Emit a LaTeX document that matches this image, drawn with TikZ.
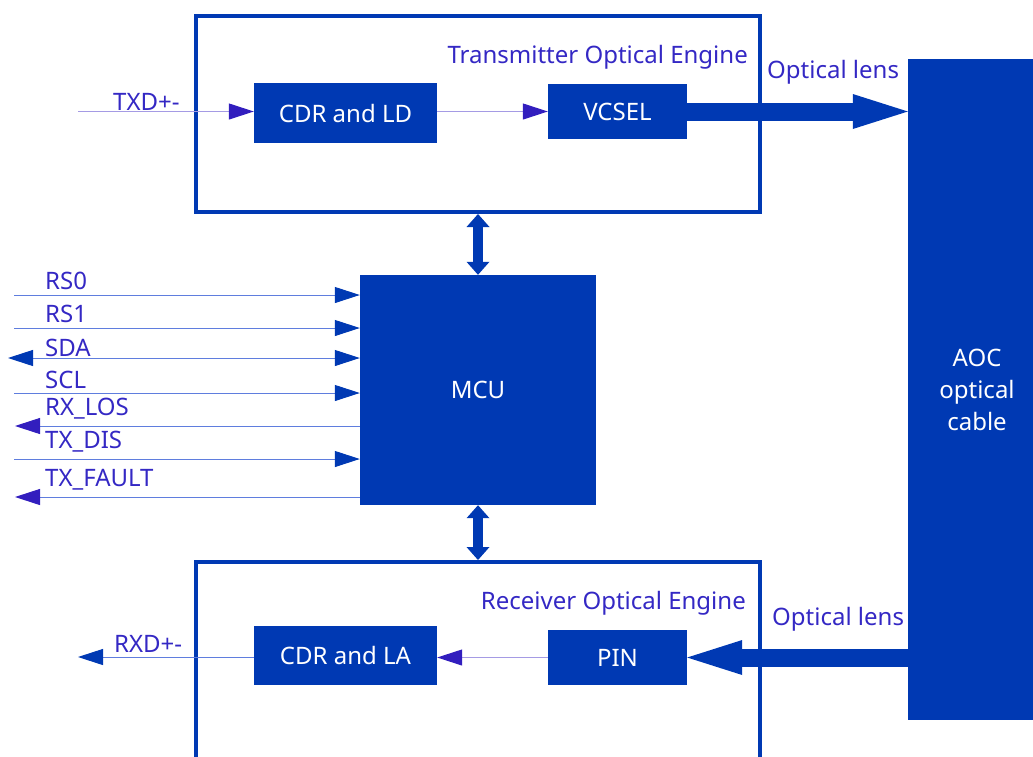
\documentclass[tikz,border=0pt]{standalone}
\usepackage{fontspec}
\setmainfont{Noto Sans}
\usetikzlibrary{arrows.meta}
\definecolor{boxblue}{RGB}{0,57,179}
\definecolor{lbl}{RGB}{52,40,196}
\definecolor{thinl}{RGB}{165,155,228}
\definecolor{sigl}{RGB}{95,125,222}
\definecolor{tipp}{RGB}{50,30,190}
\tikzset{
  tipB/.tip={Triangle[length=25pt,width=16pt,color=boxblue]},
  tipP/.tip={Triangle[length=25pt,width=16pt,color=tipp]},
  tipF/.tip={Triangle[length=55pt,width=35pt,line width=0pt]}
}
\begin{document}
\begin{tikzpicture}[x=1pt,y=-1pt,
  blk/.style={fill=boxblue,draw=none,text=white,font=\fontsize{24}{28}\selectfont,inner sep=0},
  frame/.style={draw=boxblue,line width=4pt,inner sep=0},
  lab/.style={text=lbl,font=\fontsize{24}{28}\selectfont,inner sep=0},
  thinln/.style={draw=thinl,line width=1pt},
  sig/.style={draw=sigl,line width=1pt},
  fat/.style={draw=boxblue,line width=18pt},
  dbl/.style={draw=boxblue,line width=10pt,{Triangle[length=13pt,width=23pt,line width=0pt]}-{Triangle[length=13pt,width=23pt,line width=0pt]}}
]
\useasboundingbox (0,0) rectangle (1033,756);
% frames
\node[frame,minimum width=564pt,minimum height=196pt] (tx) at (478,114) {};
\node[frame,minimum width=564pt,minimum height=240pt] (rx) at (478,682) {};
\node[lab,anchor=base east] (txl) at (748,63) {Transmitter Optical Engine};
\node[lab,anchor=base east] (rxl) at (746,609) {Receiver Optical Engine};
% blocks
\node[blk,minimum width=183pt,minimum height=60pt] (cdrld) at (345.5,113) {CDR and LD};
\node[blk,minimum width=139pt,minimum height=55pt] (vcsel) at (617.5,111.5) {VCSEL};
\node[blk,minimum width=138pt,minimum height=661pt,align=center,font=\fontsize{24}{32}\selectfont] (aoc) at (977,389.5) {AOC\\optical\\cable};
\node[blk,minimum width=236pt,minimum height=230pt] (mcu) at (478,390) {MCU};
\node[blk,minimum width=183pt,minimum height=59pt] (cdrla) at (345.5,655.5) {CDR and LA};
\node[blk,minimum width=139pt,minimum height=55pt] (pin) at (617.5,657.5) {PIN};
% labels
\node[lab,anchor=base west] (ol1) at (767,78) {Optical lens};
\node[lab,anchor=base west] (ol2) at (772,625) {Optical lens};
% TX path
\coordinate (txd) at (78,111.5);
\draw[thinln,-{tipP}] (txd) -- (txd -| cdrld.west);
\node[lab,anchor=base west] (txdl) at (113,110) {TXD+-};
\draw[thinln,-{tipP}] (cdrld.east |- vcsel.west) -- (vcsel.west);
\draw[fat,-{tipF}] (vcsel.east) -- (vcsel.east -| aoc.west);
% RX path
\draw[fat,-{tipF}] (pin.east -| aoc.west) -- (pin.east);
\draw[thinln,-{tipP}] (pin.west) -- (pin.west -| cdrla.east);
\coordinate (rxd) at (78,657);
\draw[sig,-{tipB}] (cdrla.west |- rxd) -- (rxd);
\node[lab,anchor=base west] (rxdl) at (114,652) {RXD+-};
% double arrows
\draw[dbl] (tx.south) -- (tx.south |- mcu.north);
\draw[dbl] (mcu.south) -- (mcu.south |- rx.north);
% signals
\coordinate (s0) at (14,295);
\coordinate (s1) at (14,328);
\coordinate (s2) at (8,358);
\coordinate (s3) at (14,393);
\coordinate (s4) at (15,426);
\coordinate (s5) at (14,459);
\coordinate (s6) at (15,497);
\draw[sig,-{tipB}] (s0) -- (s0 -| mcu.west);
\draw[sig,-{tipB}] (s1) -- (s1 -| mcu.west);
\draw[sig,{tipB}-{tipB}] (s2) -- (s2 -| mcu.west);
\draw[sig,-{tipB}] (s3) -- (s3 -| mcu.west);
\draw[sig,-{tipP}] (s4 -| mcu.west) -- (s4);
\draw[sig,-{tipB}] (s5) -- (s5 -| mcu.west);
\draw[sig,-{tipP}] (s6 -| mcu.west) -- (s6);
\node[lab,anchor=base west] (l0) at (45,289) {RS0};
\node[lab,anchor=base west] (l1) at (45,322.5) {RS1};
\node[lab,anchor=base west] (l2) at (45,356) {SDA};
\node[lab,anchor=base west] (l3) at (45,388) {SCL};
\node[lab,anchor=base west] (l4) at (45,415) {RX\_LOS};
\node[lab,anchor=base west] (l5) at (45,448) {TX\_DIS};
\node[lab,anchor=base west] (l6) at (45,486) {TX\_FAULT};
\end{tikzpicture}
\end{document}
